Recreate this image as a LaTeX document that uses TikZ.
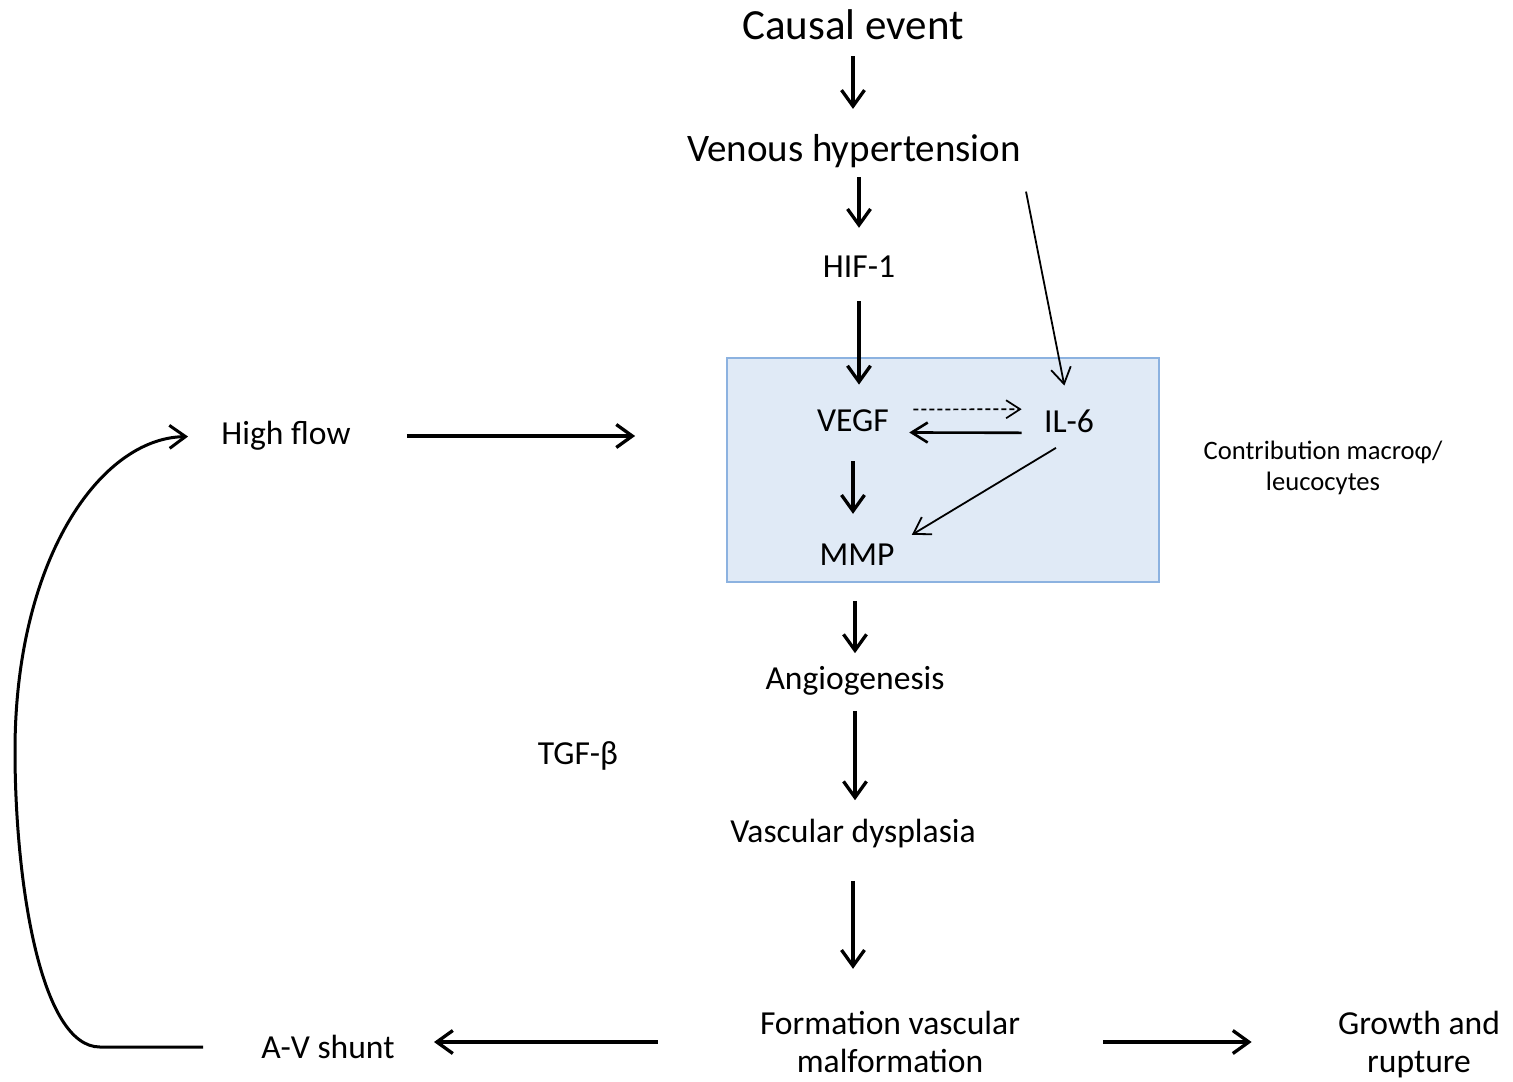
\documentclass[tikz,border=0pt]{standalone}
\usepackage{fontspec}
\setmainfont{Carlito}
\usetikzlibrary{arrows.meta, positioning}
\definecolor{panelfill}{RGB}{224,234,246}
\definecolor{paneldraw}{RGB}{140,178,224}
\tikzset{%
>={Straight Barb[length=8pt,width=11.5pt]},
  % Specifications for style of nodes:
            base/.style = {inner sep=0pt, font=\fontsize{16.8}{19}\selectfont},
            small/.style = {inner sep=0pt, align=center,
                            font=\fontsize{13.3}{15.5}\selectfont},
            panel/.style = {draw=paneldraw, fill=panelfill, line width=0.9pt,
                            minimum width=216pt, minimum height=112pt},
  % Specifications for style of arrows:
            flow/.style = {->, line width=1.65pt},
            backflow/.style = {-{Straight Barb[length=8pt,width=10pt]}, line width=1.3pt},
            thinflow/.style = {-{Straight Barb[length=8pt,width=10pt]}, line width=0.9pt},
            dashflow/.style = {-{Straight Barb[length=7pt,width=9pt]}, line width=0.85pt,
                            dash pattern=on 2.5pt off 1.5pt}
}

\begin{document}
\begin{tikzpicture}[x=0.5pt, y=-0.5pt, every node/.style={base}]
                \useasboundingbox (0,0) rectangle (1513,1081);

                \node[panel] (panel) at (943,470) {};

                \node[font=\fontsize{21.5}{24}\selectfont] (causal) at (853,25) {Causal event};
                \node[font=\fontsize{19.5}{22}\selectfont] (venous) at (854,151) {Venous hypertension};
                \node (hif) at (859,267) {HIF-1};
                \node (vegf) at (853,421) {VEGF};
                \node (il6) at (1069,421) {IL-6};
                \node (mmp) at (857,555) {MMP};
                \node (angio) at (855,681) {Angiogenesis};
                \node (tgf) at (578,756) {TGF-β};
                \node (vascular) at (853,834) {Vascular dysplasia};
                \node[align=center] (formation) at (890,1042) {Formation vascular\\malformation};
                \node[align=center] (growth) at (1419,1045) {Growth and\\rupture};
                \node (avshunt) at (328,1047) {A-V shunt};
                \node (hiflow) at (286,436) {High flow};
                \node[small] (macro) at (1323,468) {Contribution macroφ/\\leucocytes};

                % main chain
                \draw[flow, shorten <=8pt, shorten >=12.5pt] (causal) -- (causal |- venous.north);
                \draw[flow, shorten <=4.5pt, shorten >=14pt] (hif |- venous.south) -- (hif);
                \draw[flow, shorten <=11.5pt, shorten >=12.5pt] (hif) -- (hif |- vegf.north);
                \draw[flow, shorten <=14.5pt, shorten >=15pt] (vegf) -- (vegf |- mmp.north);
                \draw[flow, shorten <=9pt, shorten >=6.5pt] (angio |- panel.south) -- (angio);
                \draw[flow, shorten <=7.5pt, shorten >=9.5pt] (angio) -- (angio |- vascular.north);
                \draw[flow, shorten <=16pt, shorten >=21pt] (vascular) -- (vascular |- formation.north);

                % inside the panel
                \draw[thinflow, shorten <=12pt, shorten >=12pt] (venous.south east) -- (il6.north);
                \draw[dashflow, shorten <=12pt, shorten >=11pt] (vegf.north east) -- (il6.north west);
                \draw[backflow, shorten <=11pt, shorten >=10pt] (il6.south west) -- (vegf.south east);
                \draw[thinflow] ([shift={(-13,15)}]il6.south) -- ([shift={(17,-9)}]mmp.north east);

                % bottom row and feedback loop
                \draw[flow, shorten <=41.5pt, shorten >=43pt] (formation) -- (formation -| growth.west);
                \draw[flow, shorten <=51pt, shorten >=19.5pt] (formation) -- (formation -| avshunt.east);
                \draw[flow, shorten <=28pt, shorten >=45.5pt] (hiflow) -- (hiflow -| panel.west);
                \draw[flow, line width=1.5pt, shorten <=29pt, shorten >=16.5pt] (avshunt.west) -- (100,1047)
                    .. controls (40,1047) and (15,880) .. (15,751)
                    .. controls (15,560) and (100,438) .. (hiflow.west);

\end{tikzpicture}
\end{document}
